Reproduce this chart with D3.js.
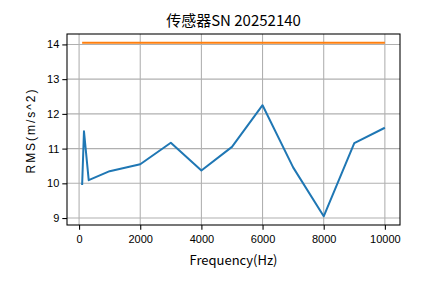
<!DOCTYPE html>
<html>
<head>
<meta charset="utf-8">
<script src="https://cdn.jsdelivr.net/npm/d3@7"></script>
<style>
  body { margin: 0; background: #fff; }
  svg { display: block; }
</style>
</head>
<body>
<div id="chart"></div>
<script>
// data
const frequencies = [100, 160, 315, 1000, 2000, 3000, 4000, 5000, 6000, 7000, 8000, 9000, 10000];
const rmsValues = [9.95, 11.5, 10.09, 10.35, 10.55, 11.17, 10.37, 11.05, 12.25, 10.46, 9.05, 11.16, 11.6];
const limitFreqs = [100, 10000];
const limitValues = [14.05, 14.05];
const xTicks = [0, 2000, 4000, 6000, 8000, 10000];
const yTicks = [9, 10, 11, 12, 13, 14];
const titleText = "传感器SN 20252140";
const xLabel = "Frequency(Hz)";
const yLabel = "RMS(m/s^2)";

const W = 444, H = 283;
const margin = {top: 34, right: 44, bottom: 58, left: 67};
const width = W - margin.left - margin.right;
const height = H - margin.top - margin.bottom;

const svg = d3.select("#chart").append("svg")
    .attr("width", W)
    .attr("height", H);

const g = svg.append("g")
    .attr("transform", "translate(" + margin.left + "," + margin.top + ")");

// matplotlib-like 5% margins
function padded(lo, hi) {
    let p = (hi - lo) * 0.05;
    return [lo - p, hi + p];
}
const allX = frequencies.concat(limitFreqs);
const allY = rmsValues.concat(limitValues);

const x = d3.scaleLinear()
    .domain(padded(d3.min(allX), d3.max(allX)))
    .range([0, width]);
const y = d3.scaleLinear()
    .domain(padded(d3.min(allY), d3.max(allY)))
    .range([height, 0]);

// grid
g.append("g").selectAll("line")
    .data(xTicks).join("line")
    .attr("x1", d => x(d)).attr("x2", d => x(d))
    .attr("y1", 0).attr("y2", height)
    .attr("stroke", "#b0b0b0").attr("stroke-width", 1.07);
g.append("g").selectAll("line")
    .data(yTicks).join("line")
    .attr("x1", 0).attr("x2", width)
    .attr("y1", d => y(d)).attr("y2", d => y(d))
    .attr("stroke", "#b0b0b0").attr("stroke-width", 1.07);

// lines
const line = d3.line()
    .x(d => x(d[0]))
    .y(d => y(d[1]));

g.append("path")
    .datum(d3.zip(frequencies, rmsValues))
    .attr("fill", "none")
    .attr("stroke", "#1f77b4")
    .attr("stroke-width", 2)
    .attr("stroke-linejoin", "round")
    .attr("d", line);

g.append("path")
    .datum(d3.zip(limitFreqs, limitValues))
    .attr("fill", "none")
    .attr("stroke", "#ff7f0e")
    .attr("stroke-width", 2)
    .attr("d", line);

// axes
const xAxis = d3.axisBottom(x).tickValues(xTicks).tickSize(4.7).tickPadding(3).tickFormat(d3.format("d"));
const yAxis = d3.axisLeft(y).tickValues(yTicks).tickSize(4.7).tickPadding(3).tickFormat(d3.format("d"));

const gx = g.append("g")
    .attr("transform", "translate(0," + height + ")")
    .call(xAxis);
const gy = g.append("g").call(yAxis);

[gx, gy].forEach(a => {
    a.select(".domain").remove();
    a.selectAll(".tick line").attr("stroke", "#000").attr("stroke-width", 1.07);
    a.selectAll(".tick text")
        .attr("fill", "#000")
        .style("font-family", "'Liberation Sans', Arial, sans-serif")
        .style("font-size", "11px");
});
gx.selectAll(".tick text").attr("dy", "0.95em");

// frame
g.append("rect")
    .attr("width", width).attr("height", height)
    .attr("fill", "none")
    .attr("stroke", "#000")
    .attr("stroke-width", 1.07);

// title and labels
svg.append("text")
    .attr("x", margin.left + width / 2)
    .attr("y", 26)
    .attr("text-anchor", "middle")
    .style("font-family", "'Noto Sans CJK SC', sans-serif")
    .style("font-size", "15px")
    .text(titleText);

svg.append("text")
    .attr("x", margin.left + width / 2)
    .attr("y", 265)
    .attr("text-anchor", "middle")
    .style("font-family", "'Noto Sans CJK SC', sans-serif")
    .style("font-size", "13px")
    .text(xLabel);

svg.append("text")
    .attr("transform", "translate(35," + (margin.top + height / 2 + 2) + ") rotate(-90)")
    .attr("text-anchor", "middle")
    .attr("textLength", 84)
    .attr("lengthAdjust", "spacing")
    .style("font-family", "'Liberation Sans', Arial, sans-serif")
    .style("font-size", "12px")
    .text(yLabel);
</script>
</body>
</html>
